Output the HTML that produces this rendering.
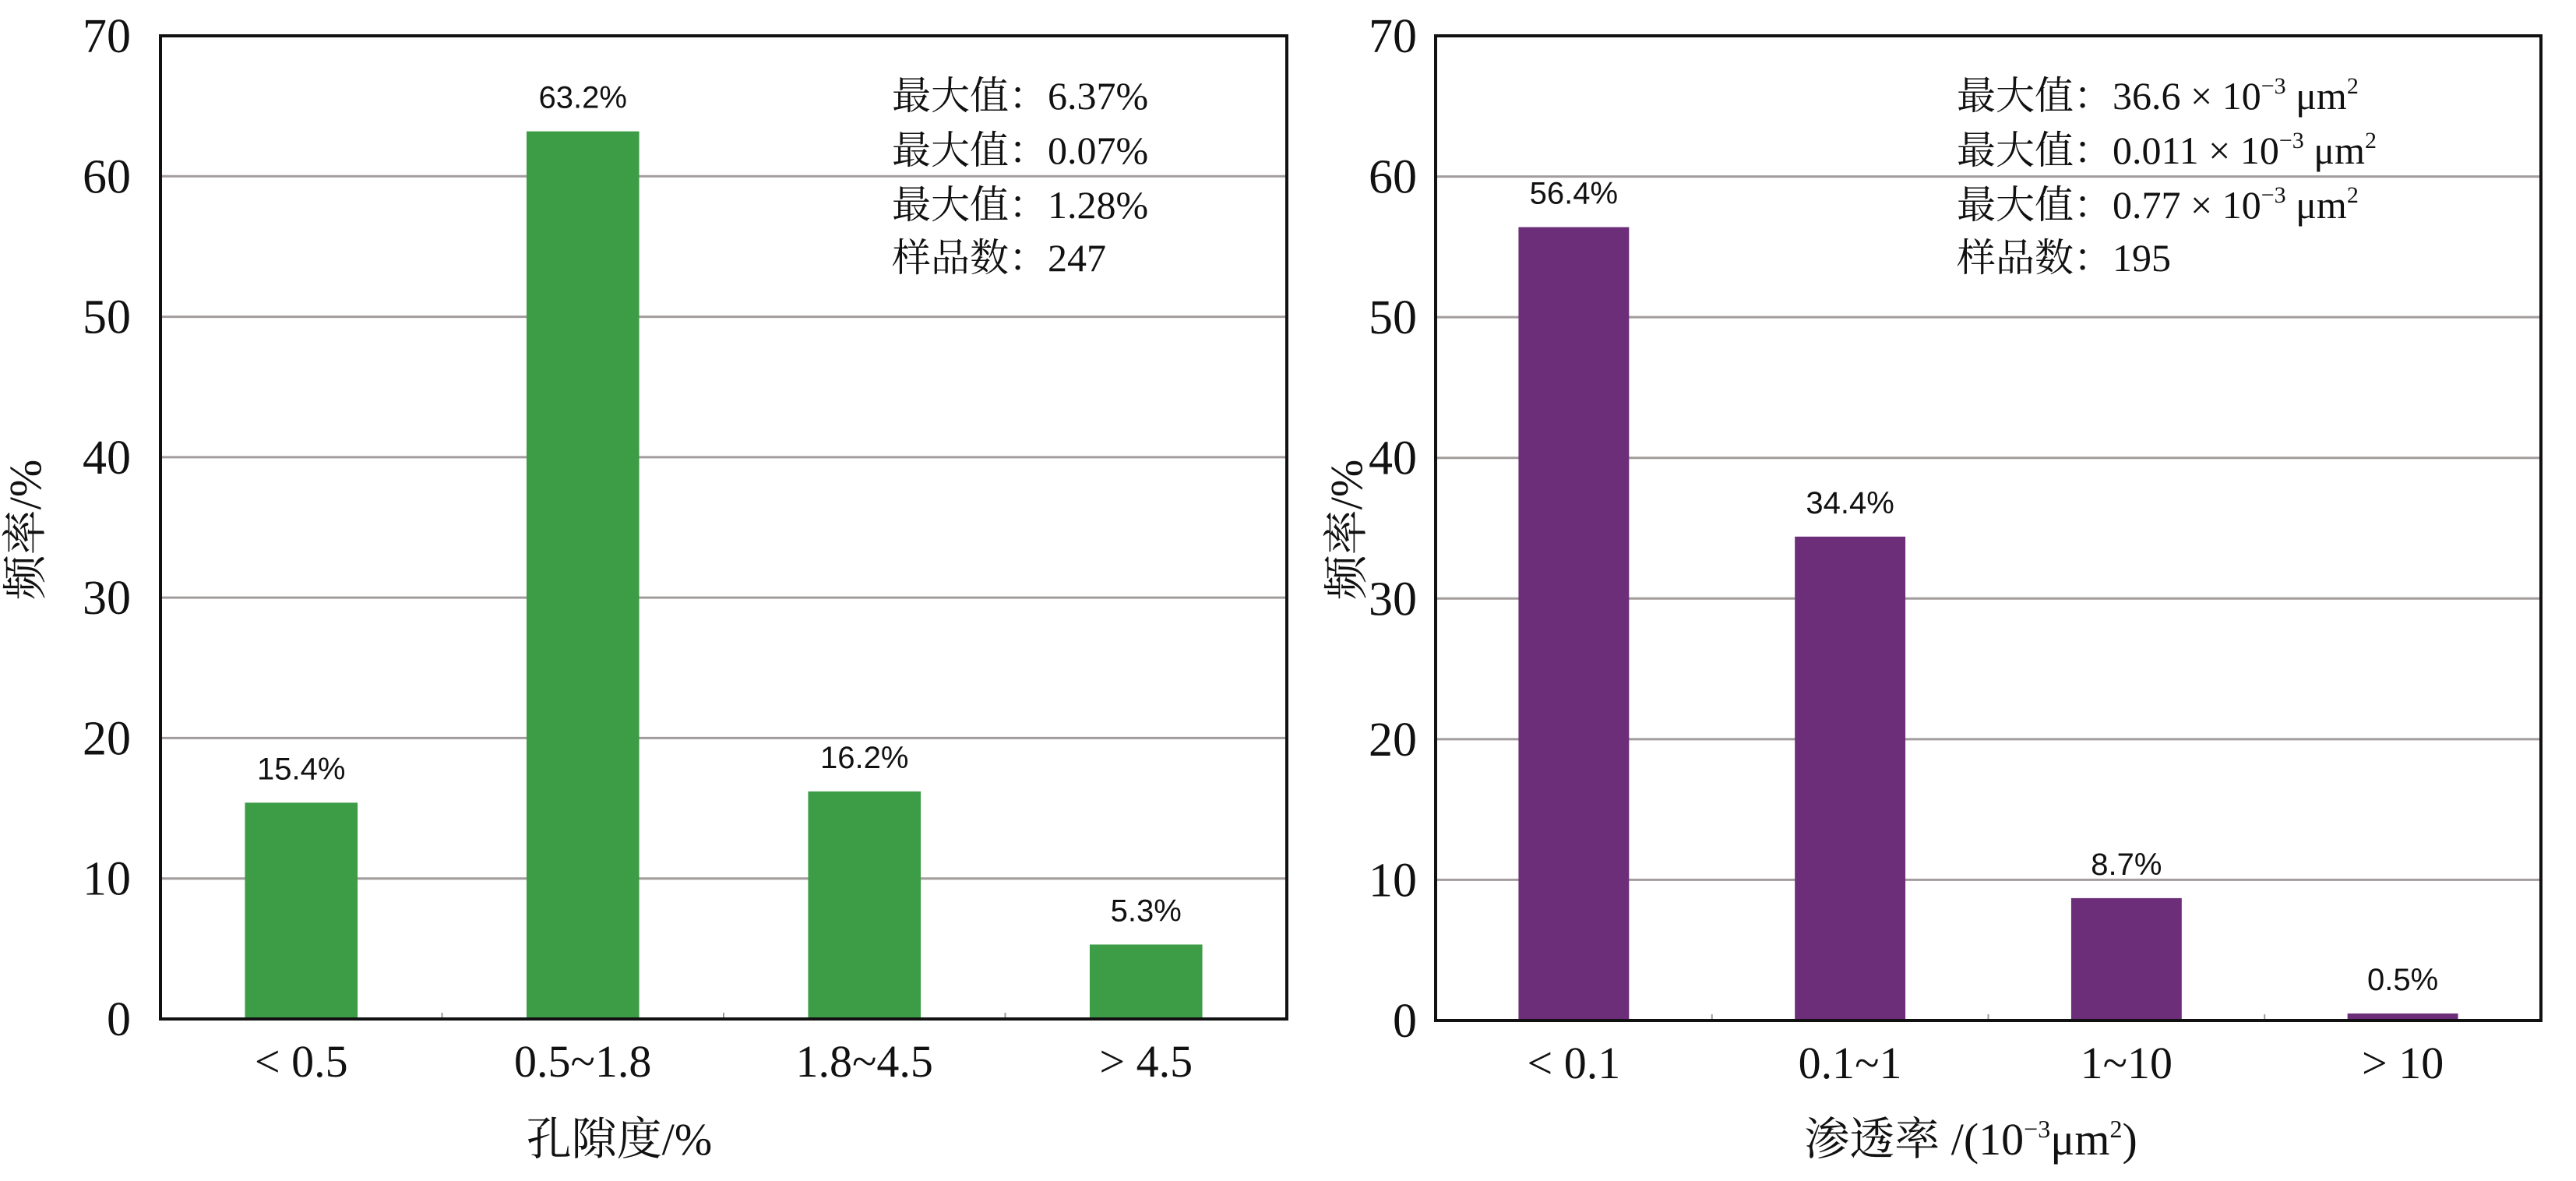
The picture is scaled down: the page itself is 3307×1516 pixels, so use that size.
<!DOCTYPE html>
<html><head><meta charset="utf-8">
<style>
html,body{margin:0;padding:0;background:#fff;}
svg{display:block;}
.tick{font-family:"Liberation Serif","Noto Serif CJK SC",serif;font-size:62px;fill:#111;}
.cat{font-family:"Liberation Serif","Noto Serif CJK SC",serif;font-size:58px;fill:#111;}
.ttl{font-family:"Liberation Serif","Noto Serif CJK SC",serif;font-size:58px;fill:#111;}
.stat{font-family:"Liberation Serif","Noto Serif CJK SC",serif;font-size:50px;fill:#111;}
.val{font-family:"Liberation Sans","DejaVu Sans",sans-serif;font-size:40px;fill:#111;}
</style></head>
<body>
<svg id="chart" width="3307" height="1516" viewBox="0 0 3307 1516" xmlns="http://www.w3.org/2000/svg">
<g id="left"></g>
<g id="right"></g>
</svg>
<script>
const yTicks = [0,10,20,30,40,50,60,70];
const poroCats = ["< 0.5","0.5~1.8","1.8~4.5","> 4.5"];
const poroVals = [15.4,63.2,16.2,5.3];
const poroLabels = ["15.4%","63.2%","16.2%","5.3%"];
const permCats = ["< 0.1","0.1~1","1~10","> 10"];
const permVals = [56.4,34.4,8.7,0.5];
const permLabels = ["56.4%","34.4%","8.7%","0.5%"];
const poroStats = ["最大值：6.37%","最大值：0.07%","最大值：1.28%","样品数：247"];

const NS="http://www.w3.org/2000/svg";
function mk(parent,tag,attrs,text){
  const e=document.createElementNS(NS,tag);
  for(const k in attrs) e.setAttribute(k,attrs[k]);
  if(text!==undefined) e.textContent=text;
  parent.appendChild(e);
  return e;
}
function draw(g,cfg){
  const {x0,x1,y0,y1,cats,vals,labels,color,key}=cfg;
  const yS=v=>y1-(v/70)*(y1-y0);
  const bw=(x1-x0)/cats.length;
  const xC=i=>x0+bw*(i+0.5);
  mk(g,'rect',{x:x0,y:y0,width:x1-x0,height:y1-y0,fill:'#fff'});
  yTicks.forEach(t=>{
    if(t>0&&t<70){
      const l=mk(g,'line',{x1:x0,x2:x1,y1:yS(t),y2:yS(t),stroke:'#a39c9c','stroke-width':3});
      
      
    }
    const tx=mk(g,'text',{x:x0-cfg.tickGap,y:yS(t)+21,'text-anchor':'end',class:'tick'},String(t));
    
    
  });
  for(let i=1;i<cats.length;i++){
    mk(g,'line',{x1:x0+bw*i,x2:x0+bw*i,y1:y1,y2:y1-8,stroke:'#999','stroke-width':2});
  }
  cats.forEach((c,i)=>{
    const w=bw*0.4;
    const r=mk(g,'rect',{x:xC(i)-w/2,y:yS(vals[i]),width:w,height:y1-yS(vals[i]),fill:color});
    
    
    const v=mk(g,'text',{x:xC(i),y:yS(vals[i])-30,'text-anchor':'middle',class:'val'},labels[i]);
    
    
    const t=mk(g,'text',{x:xC(i),y:y1+74,'text-anchor':'middle',class:'cat'},c);
    
    
  });
  mk(g,'rect',{x:x0,y:y0,width:x1-x0,height:y1-y0,fill:'none',stroke:'#111','stroke-width':4});
}
const L=document.getElementById('left'), R=document.getElementById('right');
draw(L,{x0:206,x1:1652,y0:46,y1:1308,cats:poroCats,vals:poroVals,labels:poroLabels,color:'#3d9c46',key:'porosity',tickGap:38});
draw(R,{x0:1843,x1:3262,y0:46,y1:1310,cats:permCats,vals:permVals,labels:permLabels,color:'#6c2e78',key:'permeability',tickGap:24});

let t=mk(L,'text',{x:0,y:0,'text-anchor':'middle',class:'ttl',transform:'translate(52,680) rotate(-90)'},'频率/%');


t=mk(L,'text',{x:795,y:1482,'text-anchor':'middle',class:'ttl'},'孔隙度/%');


t=mk(R,'text',{x:0,y:0,'text-anchor':'middle',class:'ttl',transform:'translate(1748,680) rotate(-90)'},'频率/%');


t=mk(R,'text',{x:2530,y:1482,'text-anchor':'middle',class:'ttl'});


t.innerHTML='渗透率 /(10<tspan font-size="32" dy="-22">−3</tspan><tspan dy="22">μm</tspan><tspan font-size="32" dy="-22">2</tspan><tspan dy="22">)</tspan>';

const sy=[140,210,280,348];
poroStats.forEach((s,i)=>{
  const e=mk(L,'text',{x:1145,y:sy[i],class:'stat'},s);
  
  
});
const permStatHtml=[
 '最大值：36.6 × 10<tspan font-size="30" dy="-20">−3</tspan><tspan dy="20"> μm</tspan><tspan font-size="30" dy="-20">2</tspan>',
 '最大值：0.011 × 10<tspan font-size="30" dy="-20">−3</tspan><tspan dy="20"> μm</tspan><tspan font-size="30" dy="-20">2</tspan>',
 '最大值：0.77 × 10<tspan font-size="30" dy="-20">−3</tspan><tspan dy="20"> μm</tspan><tspan font-size="30" dy="-20">2</tspan>',
 '样品数：195'];
permStatHtml.forEach((s,i)=>{
  const e=mk(R,'text',{x:2512,y:sy[i],class:'stat'});
  
  
  e.innerHTML=s;
});
</script>
</body></html>
